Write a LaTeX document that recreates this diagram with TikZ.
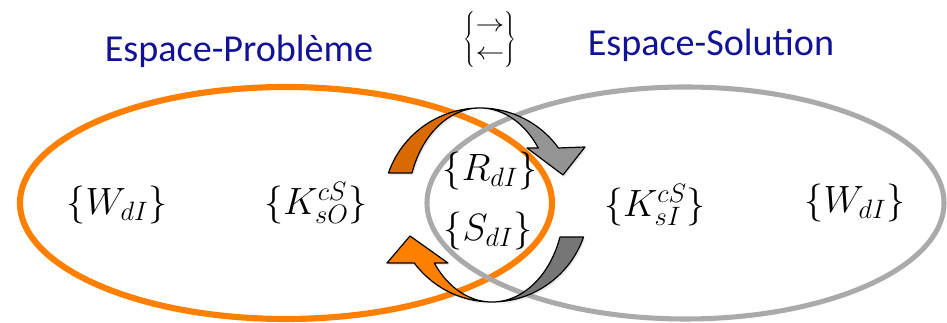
\documentclass[tikz,border=0pt]{standalone}
\usepackage{fix-cm}
\usepackage{fontspec}
\setmainfont{Carlito}
\usetikzlibrary{shadows}
\definecolor{lblue}{RGB}{18,18,150}
\definecolor{ellO}{RGB}{255,128,0}
\definecolor{ellG}{RGB}{170,170,170}
\definecolor{arrOD}{RGB}{216,106,0}
\definecolor{arrGL}{RGB}{148,148,148}
\definecolor{arrO}{RGB}{255,128,0}
\definecolor{arrGD}{RGB}{118,118,118}
\pgfdeclarehorizontalshading{topring}{100bp}{color(0bp)=(arrOD); color(46bp)=(arrOD); color(50bp)=(arrGL); color(100bp)=(arrGL)}
\pgfdeclarehorizontalshading{botring}{100bp}{color(0bp)=(arrO); color(50bp)=(arrO); color(54bp)=(arrGD); color(100bp)=(arrGD)}
\tikzset{
  lbl/.style={text=lblue, font=\fontsize{28.6}{34}\selectfont, inner sep=0pt},
  mth/.style={font=\fontsize{28.5}{34}\selectfont, inner sep=0pt},
  ringarrow/.style={draw=black, line width=0.9pt, line join=round,
     drop shadow={opacity=0.18, shadow xshift=1.2pt, shadow yshift=-1.6pt}},
}
\begin{document}
\begin{tikzpicture}[x=0.75pt,y=0.75pt]
\useasboundingbox (0,0) rectangle (947,323);
% ellipses
\draw[ellO, line width=4.6pt] (286,120) ellipse [x radius=266, y radius=116];
\draw[ellG, line width=3.8pt] (685.5,120) ellipse [x radius=258.5, y radius=116];
% circular arrows
\shadedraw[ringarrow, shading=topring]
  (388.45,150.06) arc[start angle=160.7, end angle=36, radius=97]
  -- (585,176) -- (563,148) -- (527,175) -- (538.25,175.02)
  arc[start angle=36, end angle=160.7, x radius=72, y radius=97] -- cycle;
\shadedraw[ringarrow, shading=botring]
  (583.55,85.94) arc[start angle=-19.3, end angle=-143.3, radius=97]
  -- (387,60) -- (410,87) -- (448,60) -- (434.27,60.03)
  arc[start angle=-143.3, end angle=-19.3, x radius=72, y radius=97] -- cycle;
% labels
\node[lbl] (pb) at (239,272) {Espace-Problème};
\node[lbl] (sol) at (711,278) {Espace-Solution};
\node[font=\fontsize{18}{21}\selectfont, inner sep=0pt] (sym) at (490,283)
  {$\left\{\begin{array}{@{}c@{}}\scalebox{1.2}[1]{$\rightarrow$}\\ \scalebox{1.2}[1]{$\leftarrow$}\end{array}\right\}$};
\node[mth] (w1) at (117,118) {$\{W_{dI}\}$};
\node[mth] (k1) at (316,120) {$\{K_{sO}^{cS}\}$};
\node[mth] (r) at (490,152) {$\{R_{dI}\}$};
\node[mth] (s) at (488,92) {$\{S_{dI}\}$};
\node[mth] (k2) at (655,118) {$\{K_{sI}^{cS}\}$};
\node[mth] (w2) at (855,120) {$\{W_{dI}\}$};
\end{tikzpicture}
\end{document}
